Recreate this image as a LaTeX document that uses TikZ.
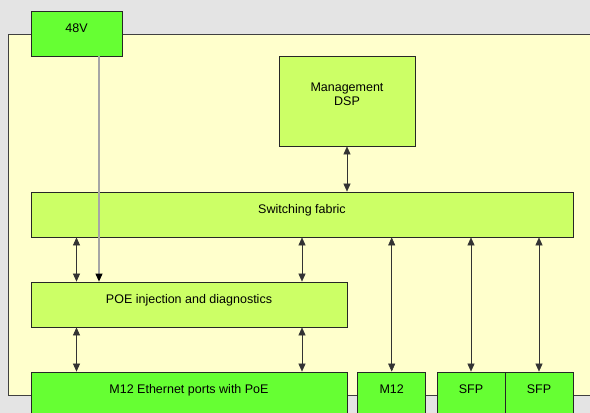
\documentclass[tikz,border=0pt]{standalone}
\usepackage{fontspec}
\setmainfont{Liberation Sans}
\usepackage{xcolor}
\usepackage{tikz}
\usetikzlibrary{arrows.meta}

\definecolor{bggray}{HTML}{E4E4E4}
\definecolor{boardyellow}{HTML}{FFFFCC}
\definecolor{portgreen}{HTML}{66FF33}
\definecolor{blockgreen}{HTML}{CCFF66}

\begin{document}
\begin{tikzpicture}[
  x=1pt, y=-1pt,
  font=\fontsize{12.5}{14.5}\selectfont,
  block/.style={draw=black!85, line width=0.8pt, fill=blockgreen, inner sep=0pt,
    minimum height=45pt, text height=8pt, text depth=10pt},
  port/.style={block, fill=portgreen},
  link/.style={{Triangle[length=8pt,width=7pt]}-{Triangle[length=8pt,width=7pt]},
    draw=black!80, line width=0.6pt},
  feed/.style={-{Triangle[length=8pt,width=7pt,color=black]},
    draw=black!35, line width=1.1pt}
]
\clip (0,0) rectangle (590,413);
\fill[bggray] (0,0) rectangle (590,413);
\draw[fill=boardyellow, draw=black!75, line width=0.8pt] (8,34) rectangle (600,395);

% blocks on the board
\node[port, minimum width=91pt] (v48) at (76.5,33.5) {48V};
\node[block, minimum width=136pt, minimum height=90pt, align=center,
  text height=, text depth=] (mgmt) at (347,101)
  {Management\\DSP\rule[-14pt]{0pt}{0pt}};
\node[block, minimum width=542pt] (sw) at (302,214.5) {Switching fabric};
\node[block, minimum width=316pt] (poe) at (189,304.5) {POE injection and diagnostics};

% front panel ports
\node[port, minimum width=316pt] (eth) at (189,394.5) {M12 Ethernet ports with PoE};
\node[port, minimum width=68pt] (m12) at (391.7,394.5) {M12};
\node[port, minimum width=68pt] (sfpa) at (471,394.5) {SFP};
\node[port, minimum width=68pt] (sfpb) at (539,394.5) {SFP};

\draw[link] (mgmt.south) -- (mgmt.south |- sw.north);
\draw[link] (v48.south |- sw.south) -- (v48.south |- poe.north);
\draw[link] (sw.south) -- (sw.south |- poe.north);
\draw[link] (v48.south |- poe.south) -- (v48.south |- eth.north);
\draw[link] (sw.south |- poe.south) -- (sw.south |- eth.north);
\draw[link] (m12.north |- sw.south) -- (m12.north);
\draw[link] (sfpa.north |- sw.south) -- (sfpa.north);
\draw[link] (sfpb.north |- sw.south) -- (sfpb.north);

% supply feed
\draw[feed] ([xshift=22.5pt]v48.south) -- ([xshift=22.5pt]v48.south |- poe.north);
\end{tikzpicture}
\end{document}
